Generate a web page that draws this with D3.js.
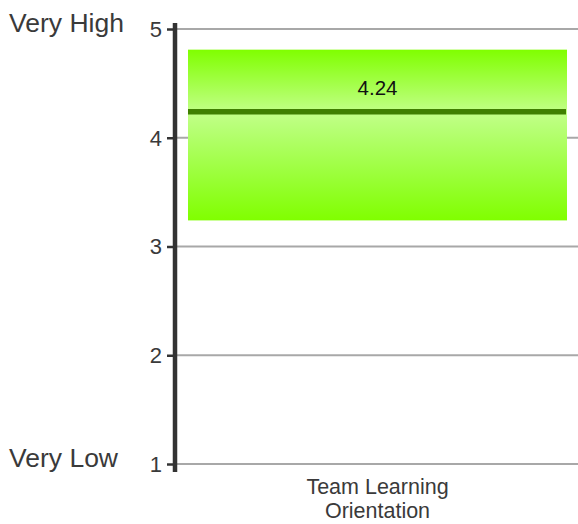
<!DOCTYPE html>
<html>
<head>
<meta charset="utf-8">
<script src="https://cdn.jsdelivr.net/npm/d3@7"></script>
<style>
  html, body { margin: 0; padding: 0; background: #fff; }
  svg text { font-family: "Liberation Sans", Arial, sans-serif; fill: #3a3a3a; }
</style>
</head>
<body>
<svg id="chart" width="578" height="524"></svg>
<script>
// Scale anchors and ticks
const tickValues = [1, 2, 3, 4, 5];
const endLabels = [
  { value: 5, text: "Very High" },
  { value: 1, text: "Very Low" }
];

// Category and its score range
const categories = [["Team Learning", "Orientation"]];
const rangeLow = [3.24];
const rangeHigh = [4.81];
const means = [4.24];

const svg = d3.select("#chart");
const W = 578;
const axisX = 175;

const y = d3.scaleLinear().domain([1, 5]).range([464, 29]);
const x = d3.scaleBand().domain(categories.map((d, i) => i))
  .range([axisX, W + 2]).paddingInner(0).paddingOuter(0.0343);

// Vertical gradient for the range box: saturated at the edges, pale near the middle
const defs = svg.append("defs");
const grad = defs.append("linearGradient")
  .attr("id", "boxGrad").attr("x1", 0).attr("y1", 0).attr("x2", 0).attr("y2", 1);
grad.append("stop").attr("offset", "0%").attr("stop-color", "#80ff00");
grad.append("stop").attr("offset", "37%").attr("stop-color", "#c2ff88");
grad.append("stop").attr("offset", "45%").attr("stop-color", "#b8ff78");
grad.append("stop").attr("offset", "100%").attr("stop-color", "#80ff00");

// Gridlines
svg.append("g").selectAll("line")
  .data(tickValues)
  .join("line")
  .attr("x1", axisX).attr("x2", W)
  .attr("y1", d => y(d)).attr("y2", d => y(d))
  .attr("stroke", "#a8a8a8").attr("stroke-width", 2);

// Range boxes
const boxes = svg.append("g").selectAll("g")
  .data(categories.map((c, i) => ({ c, lo: rangeLow[i], hi: rangeHigh[i], m: means[i], i })))
  .join("g");

boxes.append("rect")
  .attr("x", d => x(d.i))
  .attr("y", d => y(d.hi))
  .attr("width", x.bandwidth())
  .attr("height", d => y(d.lo) - y(d.hi))
  .attr("fill", "url(#boxGrad)");

boxes.append("line")
  .attr("x1", d => x(d.i))
  .attr("x2", d => x(d.i) + x.bandwidth() - 1)
  .attr("y1", d => y(d.m)).attr("y2", d => y(d.m))
  .attr("stroke", "#3f7f00").attr("stroke-width", 5.5);

boxes.append("text")
  .attr("x", d => x(d.i) + x.bandwidth() / 2)
  .attr("y", d => y(d.m) - 17)
  .attr("text-anchor", "middle")
  .style("font-size", "20.5px")
  .style("fill", "#111")
  .text(d => d.m.toFixed(2));

// Category labels
const catLabels = svg.append("g").selectAll("text")
  .data(categories.map((c, i) => ({ c, i })))
  .join("text")
  .attr("x", d => x(d.i) + x.bandwidth() / 2)
  .attr("y", 494)
  .attr("text-anchor", "middle")
  .style("font-size", "21.5px");
catLabels.selectAll("tspan")
  .data(d => d.c.map(line => ({ line, cx: x(d.i) + x.bandwidth() / 2 })))
  .join("tspan")
  .attr("x", d => d.cx)
  .attr("dy", (d, k) => k === 0 ? 0 : 23.5)
  .text(d => d.line);

// Y axis
const axis = svg.append("g")
  .attr("transform", `translate(${axisX},0)`)
  .call(d3.axisLeft(y).tickValues(tickValues).tickSize(8).tickPadding(5).tickFormat(d3.format("d")));
axis.select(".domain").remove();
axis.selectAll(".tick line").attr("stroke", "#333").attr("stroke-width", 2.5);
axis.selectAll(".tick text")
  .style("font-size", "22px").style("font-family", "Liberation Sans, Arial, sans-serif")
  .attr("dy", "0.34em").style("fill", "#3a3a3a");

svg.append("line")
  .attr("x1", axisX).attr("x2", axisX)
  .attr("y1", y(5) - 6).attr("y2", y(1) + 8)
  .attr("stroke", "#333").attr("stroke-width", 4.5);

// End labels
svg.append("g").selectAll("text")
  .data(endLabels)
  .join("text")
  .attr("x", 9)
  .attr("y", d => y(d.value) + 3)
  .style("font-size", "26.5px")
  .text(d => d.text);
</script>
</body>
</html>
